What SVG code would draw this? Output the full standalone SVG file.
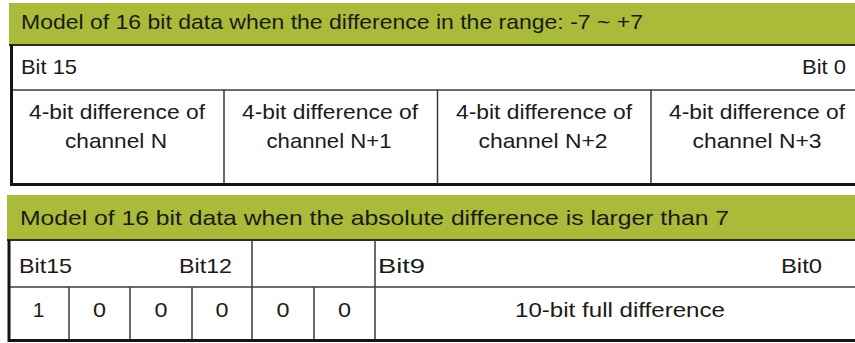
<svg xmlns="http://www.w3.org/2000/svg" width="855" height="343" viewBox="0 0 855 343">
<style>
.hdr{fill:#aabb3a;stroke:none}
.hline{stroke:#2a2f1c;stroke-width:2;fill:none}
.thin{stroke:#3a3a3a;stroke-width:1.5;fill:none}
.thick{stroke:#151515;stroke-width:3;fill:none}
text{font-family:"Liberation Sans",Arial,sans-serif;font-size:21px;fill:#1a1a1a}
.c{text-anchor:middle}
.e{text-anchor:end}
</style>
<rect x="0" y="0" width="855" height="343" fill="#ffffff"/>
<g id="table1">
  <g id="header1">
    <rect class="hdr" x="9" y="3" width="846" height="42"/>
    <line class="hline" x1="9" y1="45" x2="855" y2="45"/>
    <text x="21" y="29" textLength="622" lengthAdjust="spacingAndGlyphs">Model of 16 bit data when the difference in the range: -7 ~ +7</text>
  </g>
  <g id="bitrow1">
    <line class="thin" x1="11" y1="90" x2="855" y2="90"/>
    <text x="21" y="74" textLength="56" lengthAdjust="spacingAndGlyphs">Bit 15</text>
    <text x="846" y="74" class="e" textLength="44" lengthAdjust="spacingAndGlyphs">Bit 0</text>
  </g>
  <g id="chN">
    <text x="117" y="119" class="c" textLength="176" lengthAdjust="spacingAndGlyphs">4-bit difference of</text>
    <text x="116" y="148" class="c" textLength="102" lengthAdjust="spacingAndGlyphs">channel N</text>
  </g>
  <g id="chN1">
    <line class="thin" x1="224" y1="90" x2="224" y2="184"/>
    <text x="330" y="119" class="c" textLength="176" lengthAdjust="spacingAndGlyphs">4-bit difference of</text>
    <text x="329" y="148" class="c" textLength="125" lengthAdjust="spacingAndGlyphs">channel N+1</text>
  </g>
  <g id="chN2">
    <line class="thin" x1="437.5" y1="90" x2="437.5" y2="184"/>
    <text x="544" y="119" class="c" textLength="176" lengthAdjust="spacingAndGlyphs">4-bit difference of</text>
    <text x="543" y="148" class="c" textLength="129" lengthAdjust="spacingAndGlyphs">channel N+2</text>
  </g>
  <g id="chN3">
    <line class="thin" x1="651" y1="90" x2="651" y2="184"/>
    <text x="757" y="119" class="c" textLength="176" lengthAdjust="spacingAndGlyphs">4-bit difference of</text>
    <text x="757" y="148" class="c" textLength="129" lengthAdjust="spacingAndGlyphs">channel N+3</text>
  </g>
  <path class="thick" d="M11.5,45 V184.5 H855"/>
</g>
<g id="table2">
  <g id="header2">
    <rect class="hdr" x="7" y="195" width="848" height="45"/>
    <line class="hline" x1="7" y1="240" x2="855" y2="240"/>
    <text x="20" y="225" textLength="709" lengthAdjust="spacingAndGlyphs">Model of 16 bit data when the absolute difference is larger than 7</text>
  </g>
  <g id="bitrow2">
    <line class="thin" x1="9" y1="287" x2="855" y2="287"/>
    <line class="thin" x1="252" y1="240" x2="252" y2="340"/>
    <line class="thin" x1="375" y1="240" x2="375" y2="340"/>
    <text x="19" y="273" textLength="53" lengthAdjust="spacingAndGlyphs">Bit15</text>
    <text x="232" y="273" class="e" textLength="53" lengthAdjust="spacingAndGlyphs">Bit12</text>
    <text x="378" y="273" textLength="47" lengthAdjust="spacingAndGlyphs">Bit9</text>
    <text x="822" y="273" class="e" textLength="41" lengthAdjust="spacingAndGlyphs">Bit0</text>
  </g>
  <g id="bits">
    <line class="thin" x1="69" y1="287" x2="69" y2="340"/>
    <line class="thin" x1="130" y1="287" x2="130" y2="340"/>
    <line class="thin" x1="192" y1="287" x2="192" y2="340"/>
    <line class="thin" x1="314" y1="287" x2="314" y2="340"/>
    <text x="38.5" y="317" class="c">1</text>
    <text x="99.5" y="317" class="c" textLength="13" lengthAdjust="spacingAndGlyphs">0</text>
    <text x="161" y="317" class="c" textLength="13" lengthAdjust="spacingAndGlyphs">0</text>
    <text x="222" y="317" class="c" textLength="13" lengthAdjust="spacingAndGlyphs">0</text>
    <text x="283" y="317" class="c" textLength="13" lengthAdjust="spacingAndGlyphs">0</text>
    <text x="344.5" y="317" class="c" textLength="13" lengthAdjust="spacingAndGlyphs">0</text>
  </g>
  <g id="fulldiff">
    <text x="620" y="317" class="c" textLength="210" lengthAdjust="spacingAndGlyphs">10-bit full difference</text>
  </g>
  <path class="thick" d="M9,240 V340.5 H855"/>
</g>
</svg>
